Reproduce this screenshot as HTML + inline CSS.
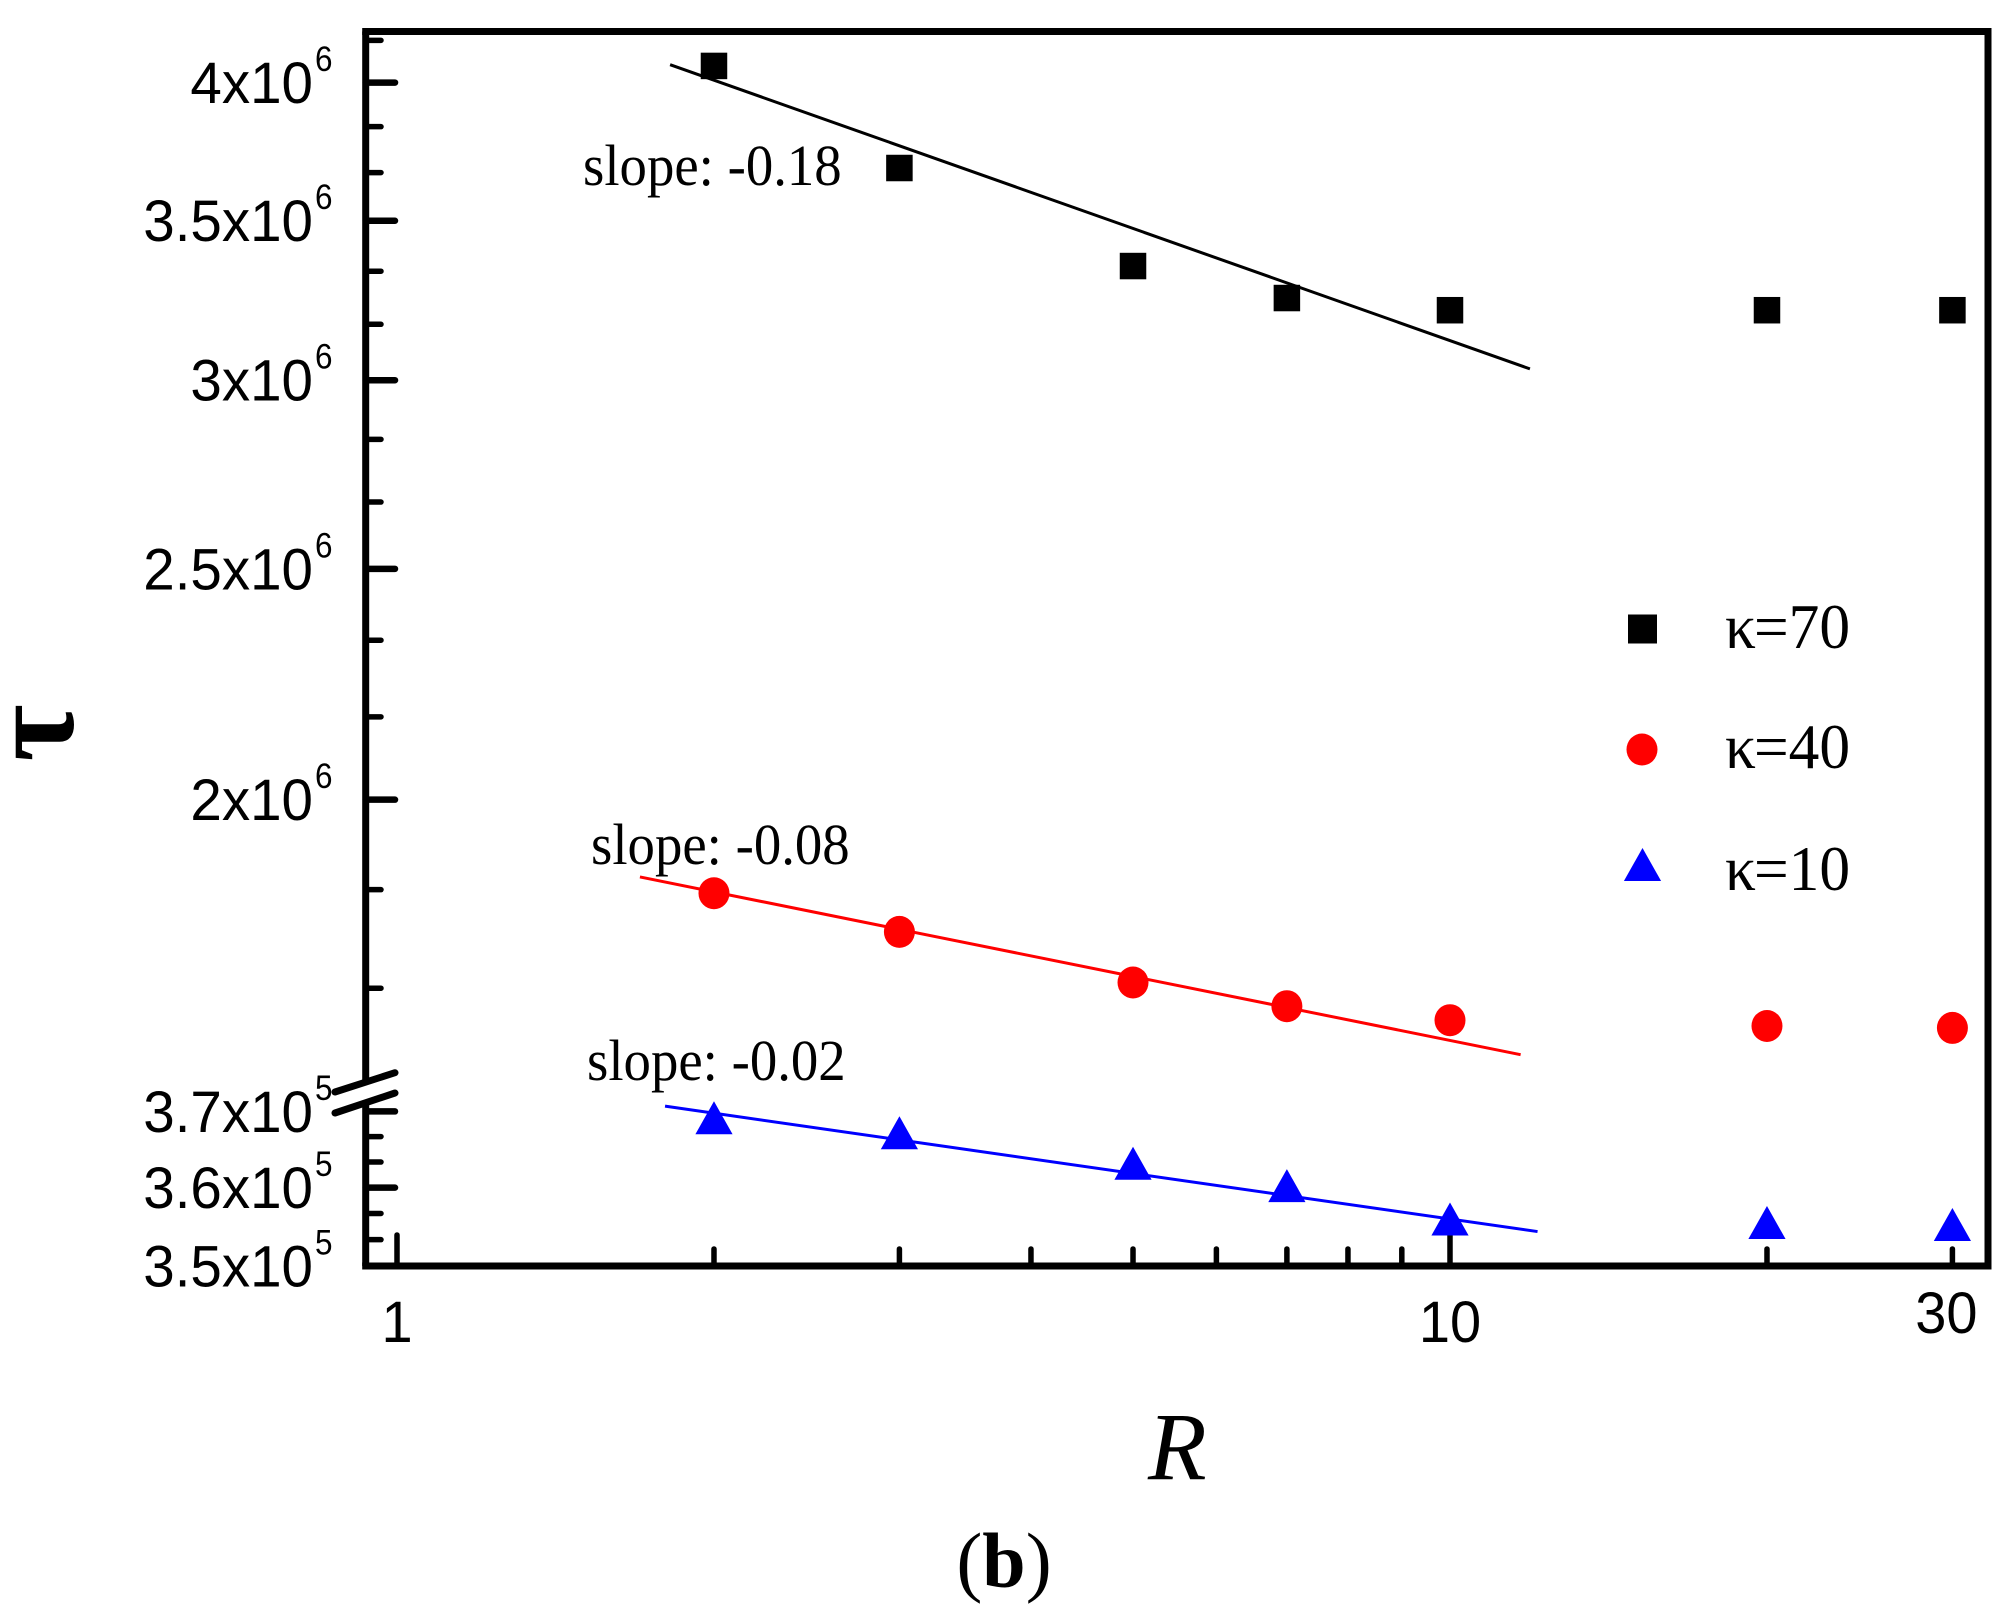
<!DOCTYPE html>
<html>
<head>
<meta charset="utf-8">
<title>Tau versus R</title>
<style>
html,body{margin:0;padding:0;background:#fff;}
svg{display:block;}
.tick-label{font-family:"Liberation Sans",Arial,sans-serif;font-size:58px;fill:#000;}
.tick-sup{font-family:"Liberation Sans",Arial,sans-serif;font-size:35px;fill:#000;}
.serif{font-family:"Liberation Serif","Times New Roman",serif;fill:#000;}
</style>
</head>
<body>
<svg id="chart" xmlns="http://www.w3.org/2000/svg" width="2007" height="1618" viewBox="0 0 2007 1618">
  <rect x="0" y="0" width="2007" height="1618" fill="#fff"/>
  <g id="axes"></g>
  <g id="fits"></g>
  <g id="marks"></g>
  <g id="legend"></g>
  <text class="serif" transform="translate(583,185) scale(.945,1)" font-size="58">slope: -0.18</text>
  <text class="serif" transform="translate(591,864) scale(.945,1)" font-size="58">slope: -0.08</text>
  <text class="serif" transform="translate(587,1080) scale(.945,1)" font-size="58">slope: -0.02</text>
  <text class="serif" x="1148" y="1479" font-size="96" font-style="italic">R</text>
  <text class="serif" transform="translate(73,733) rotate(-90)" text-anchor="middle" font-size="124" font-weight="bold">τ</text>
  <text class="serif" x="1004" y="1587" text-anchor="middle" font-size="78">(<tspan font-weight="bold">b</tspan>)</text>
</svg>
<script>
// ---- data ----
const rValues = [2, 3, 5, 7, 10, 20, 30];
const tauK70 = [4.065e6, 3.683e6, 3.35e6, 3.248e6, 3.21e6, 3.21e6, 3.21e6];
const tauK40 = [1.827e6, 1.760e6, 1.676e6, 1.638e6, 1.616e6, 1.607e6, 1.604e6];
const tauK10 = [3.691e5, 3.671e5, 3.631e5, 3.602e5, 3.559e5, 3.5545e5, 3.552e5];

const fitK70R = [1.817, 11.91];
const fitK70Tau = [4.07e6, 3.033e6];
const fitK40R = [1.701, 11.67];
const fitK40Tau = [1.856e6, 1.563e6];
const fitK10R = [1.797, 12.11];
const fitK10Tau = [3.707e5, 3.5436e5];

const xMajorTicks = [1, 10];
const xMinorTicks = [2, 3, 4, 5, 6, 7, 8, 9, 20, 30];
const xTickLabelValues = [1, 10, 30];
const xTickLabels = ['1', '10', '30'];

const yMajorTicks = [4e6, 3.5e6, 3e6, 2.5e6, 2e6, 3.7e5, 3.6e5, 3.5e5];
const yMajorLabels = ['4x10', '3.5x10', '3x10', '2.5x10', '2x10', '3.7x10', '3.6x10', '3.5x10'];
const yMajorExponents = ['6', '6', '6', '6', '6', '5', '5', '5'];
const yMinorTicks = [4.1667e6, 3.8333e6, 3.6667e6, 3.3333e6, 3.1667e6, 2.8333e6, 2.6667e6, 2.3333e6, 2.1667e6,
                     1.8333e6, 1.6667e6, 3.6667e5, 3.6333e5, 3.5667e5, 3.5333e5];

const legendLabels = ['70', '40', '10'];

// ---- layout ----
const NS = 'http://www.w3.org/2000/svg';
const left = 365.7, right = 1988, top_ = 31.5, bottom = 1266;
const x1 = 397, xDecade = 1053;
const upperRefY = 82.6, upperRefV = 4e6, upperDecade = 2382;
const lowerRefY = 1266, lowerRefV = 3.5e5, lowerDecade = 6405;
const BREAK_VALUE = 1e6;

function xScale(r) { return x1 + xDecade * Math.log10(r); }
function yScale(v) {
  if (v >= BREAK_VALUE) return upperRefY + upperDecade * Math.log10(upperRefV / v);
  return lowerRefY - lowerDecade * Math.log10(v / lowerRefV);
}
function make(tag, attrs, parent) {
  const el = document.createElementNS(NS, tag);
  for (const k in attrs) el.setAttribute(k, attrs[k]);
  parent.appendChild(el);
  return el;
}
const axes = document.getElementById('axes');
const fits = document.getElementById('fits');
const marks = document.getElementById('marks');
const legend = document.getElementById('legend');

function lineEl(x1_, y1_, x2_, y2_, w, color, cap, parent) {
  return make('line', {x1: x1_, y1: y1_, x2: x2_, y2: y2_, stroke: color, 'stroke-width': w, 'stroke-linecap': cap}, parent);
}

// ---- axis frame ----
let el;
el = lineEl(left - 3.5, top_, right + 3.5, top_, 7, '#000', 'butt', axes);


el = lineEl(right, top_, right, bottom, 7, '#000', 'butt', axes);


el = lineEl(left - 3.5, bottom, right + 3.5, bottom, 7, '#000', 'butt', axes);


el = lineEl(left, top_, left, 1082, 7, '#000', 'butt', axes);


el = lineEl(left, 1103, left, bottom, 7, '#000', 'butt', axes);


el = lineEl(335, 1092, 395, 1072.7, 7, '#000', 'round', axes);


el = lineEl(335, 1113, 395, 1093, 7, '#000', 'round', axes);



// ---- ticks ----
yMajorTicks.forEach(function (v, i) {
  const y = yScale(v);
  const t = lineEl(left, y, 395, y, 6.5, '#000', 'round', axes);
  
  
  const base = y + 20.5;
  const lab = make('text', {class: 'tick-label', transform: 'translate(313,' + base + ') scale(.975,1)', 'text-anchor': 'end'}, axes);
  lab.textContent = yMajorLabels[i];
  
  
  const sup = make('text', {class: 'tick-sup', transform: 'translate(315,' + (base - 32) + ') scale(.9,1)'}, axes);
  sup.textContent = yMajorExponents[i];
  
  
});
yMinorTicks.forEach(function (v) {
  const y = yScale(v);
  const t = lineEl(left, y, 381, y, 5.5, '#000', 'round', axes);
  
  
});
xMajorTicks.forEach(function (r) {
  const x = xScale(r);
  const t = lineEl(x, bottom, x, 1235, 5.5, '#000', 'round', axes);
  
  
});
xMinorTicks.forEach(function (r) {
  const x = xScale(r);
  const t = lineEl(x, bottom, x, 1249, 5.5, '#000', 'round', axes);
  
  
});
xTickLabelValues.forEach(function (r, i) {
  const last = i === xTickLabelValues.length - 1;
  const tx = xScale(r) + (last ? -6 : 0);
  const ty = last ? 1333 : 1342;
  const lab = make('text', {class: 'tick-label', transform: 'translate(' + tx + ',' + ty + ') scale(.965,1)', 'text-anchor': 'middle'}, axes);
  lab.textContent = xTickLabels[i];
  
  
});

// ---- fit lines ----
function drawFit(rs, taus, color, name) {
  const l = lineEl(xScale(rs[0]), yScale(taus[0]), xScale(rs[1]), yScale(taus[1]), 3, color, 'butt', fits);
  
  
}
drawFit(fitK70R, fitK70Tau, '#000', 'fit-line-k70');
drawFit(fitK40R, fitK40Tau, '#f00', 'fit-line-k40');
drawFit(fitK10R, fitK10Tau, '#00f', 'fit-line-k10');

// ---- markers ----
function square(cx, cy, s, parent) {
  return make('rect', {x: cx - s / 2, y: cy - s / 2, width: s, height: s, fill: '#000'}, parent);
}
function circle(cx, cy, r, parent) {
  return make('ellipse', {cx: cx, cy: cy, rx: r, ry: r + 0.5, fill: '#f00'}, parent);
}
function triangle(cx, cy, parent) {
  const p = [cx, cy - 17, cx + 18.6, cy + 16, cx - 18.6, cy + 16].join(' ');
  return make('polygon', {points: p, fill: '#00f'}, parent);
}
rValues.forEach(function (r, i) {
  const m = square(xScale(r), yScale(tauK70[i]), 26.5, marks);
  
  
});
rValues.forEach(function (r, i) {
  const m = circle(xScale(r), yScale(tauK40[i]), 15.5, marks);
  
  
});
rValues.forEach(function (r, i) {
  const m = triangle(xScale(r), yScale(tauK10[i]), marks);
  
  
});

// ---- legend ----
el = square(1642.5, 629, 29, legend);


el = circle(1642, 749.5, 15.5, legend);


el = triangle(1642.5, 865, legend);



const legendBaselines = [648, 768, 890];
legendLabels.forEach(function (lbl, i) {
  const t = make('text', {class: 'serif', 'font-size': 64, transform: 'translate(1725,' + legendBaselines[i] + ') scale(.96,1)'}, legend);
  const a = make('tspan', {x: 0}, t);
  a.textContent = 'κ';
  const b = make('tspan', {x: 30.2}, t);
  b.textContent = '=' + lbl;
  
  
});
</script>
</body>
</html>
